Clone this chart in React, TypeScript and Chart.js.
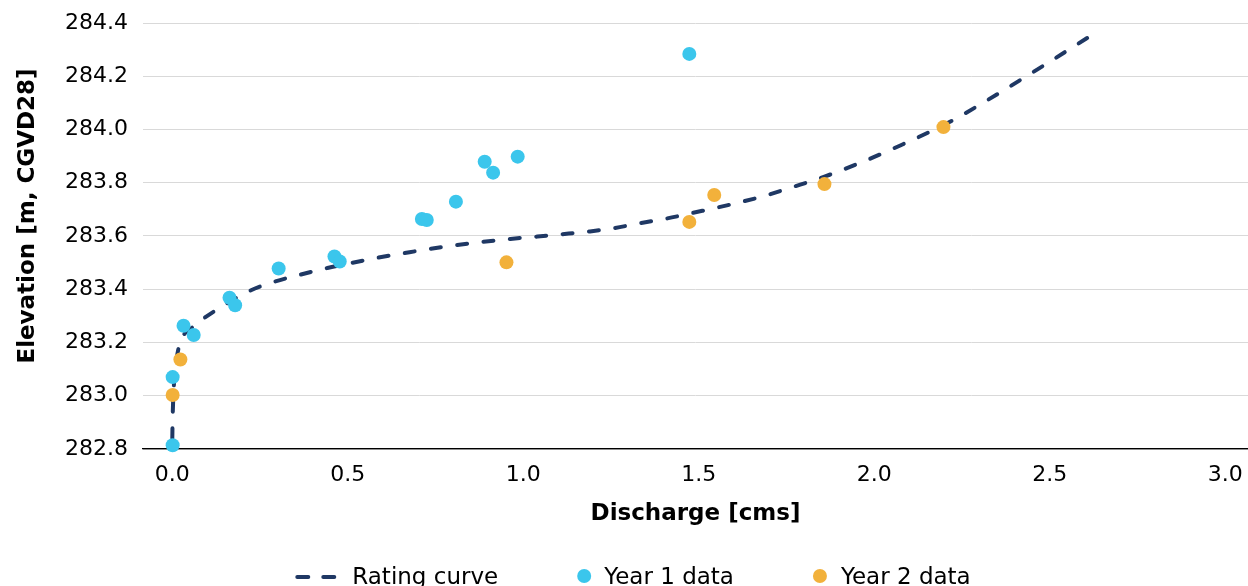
import React, { useEffect, useRef } from "react";
import { Chart, registerables } from "chart.js";

Chart.register(...registerables);

// ---------- data ----------
const curveQ = [
  0.0, 0.001, 0.003, 0.006, 0.01, 0.022, 0.036, 0.051, 0.089, 0.141, 0.222,
  0.288, 0.365, 0.442, 0.507, 0.584, 0.658, 0.735, 0.812, 0.886, 0.963, 1.04,
  1.105, 1.19, 1.26, 1.333, 1.41, 1.48, 1.58, 1.685, 1.77, 1.858, 1.96, 2.074,
  2.217, 2.322, 2.453, 2.607,
];
const curveElev = [
  282.84, 282.92, 283.0, 283.07, 283.12, 283.2, 283.235, 283.25, 283.29,
  283.335, 283.395, 283.427, 283.455, 283.48, 283.498, 283.518, 283.535,
  283.552, 283.566, 283.578, 283.589, 283.598, 283.606, 283.617, 283.63,
  283.648, 283.666, 283.686, 283.715, 283.75, 283.785, 283.823, 283.875,
  283.94, 284.03, 284.11, 284.216, 284.344,
];

const year1Q = [
  0.001, 0.001, 0.032, 0.061, 0.163, 0.179, 0.303, 0.462, 0.477, 0.711, 0.725,
  0.808, 0.89, 0.914, 0.984, 1.473,
];
const year1Elev = [
  282.814, 283.07, 283.263, 283.228, 283.368, 283.34, 283.478, 283.523,
  283.504, 283.664, 283.66, 283.729, 283.879, 283.838, 283.898, 284.284,
];

const year2Q = [0.001, 0.023, 0.952, 1.473, 1.544, 1.858, 2.197];
const year2Elev = [283.003, 283.136, 283.501, 283.653, 283.754, 283.795, 284.009];

const xTickValues = [0, 0.5, 1.0, 1.5, 2.0, 2.5, 3.0];
const yTickValues = [282.8, 283.0, 283.2, 283.4, 283.6, 283.8, 284.0, 284.2, 284.4];

const seriesNames = ["Rating curve", "Year 1 data", "Year 2 data"];
const xAxisTitle = "Discharge [cms]";
const yAxisTitle = "Elevation [m, CGVD28]";

// ---------- styles ----------
const NAVY = "#1F3864";
const BLUE = "#3BC6EC";
const ORANGE = "#F2B13B";
const FONT = "'DejaVu Sans', sans-serif";

const toPoints = (xs: number[], ys: number[]) => xs.map((x, i) => ({ x, y: ys[i] }));

const yTitlePlugin = {
  id: "yTitle",
  afterDraw(chart: any) {
    const { ctx, chartArea } = chart;
    ctx.save();
    ctx.translate(28, (chartArea.top + chartArea.bottom) / 2 - 20);
    ctx.rotate(-Math.PI / 2);
    ctx.font = `bold 23px ${FONT}`;
    ctx.fillStyle = "#000";
    ctx.textAlign = "center";
    ctx.textBaseline = "middle";
    ctx.fillText(yAxisTitle, 0, 0);
    ctx.restore();
  },
};

const legendPlugin = {
  id: "customLegend",
  afterDraw(chart: any) {
    const { ctx } = chart;
    ctx.save();
    ctx.font = `23px ${FONT}`;
    ctx.textBaseline = "middle";
    ctx.fillStyle = "#000";
    const y = 577;
    const sampleW = 41;
    const sampleGap = 16;
    const dotGap = 20;
    const itemGap = 86;
    const w0 = ctx.measureText(seriesNames[0]).width;
    const w1 = ctx.measureText(seriesNames[1]).width;
    const w2 = ctx.measureText(seriesNames[2]).width;
    const total = sampleW + sampleGap + w0 + itemGap + dotGap + w1 + itemGap + dotGap + w2;
    let x = chart.width / 2 + 8.5 - total / 2;
    // dashed line sample
    ctx.strokeStyle = NAVY;
    ctx.lineWidth = 4;
    ctx.lineCap = "round";
    ctx.beginPath();
    ctx.moveTo(x + 2, y);
    ctx.lineTo(x + 13, y);
    ctx.moveTo(x + 28, y);
    ctx.lineTo(x + 39, y);
    ctx.stroke();
    x += sampleW + sampleGap;
    ctx.fillText(seriesNames[0], x, y + 1);
    x += w0 + itemGap;
    // blue dot
    ctx.fillStyle = BLUE;
    ctx.beginPath();
    ctx.arc(x, y - 1, 7, 0, Math.PI * 2);
    ctx.fill();
    x += dotGap;
    ctx.fillStyle = "#000";
    ctx.fillText(seriesNames[1], x, y + 1);
    x += w1 + itemGap;
    ctx.fillStyle = ORANGE;
    ctx.beginPath();
    ctx.arc(x, y - 1, 7, 0, Math.PI * 2);
    ctx.fill();
    x += dotGap + 1;
    ctx.fillStyle = "#000";
    ctx.fillText(seriesNames[2], x, y + 1);
    ctx.restore();
  },
};

export default function App() {
  const canvasRef = useRef<HTMLCanvasElement | null>(null);

  useEffect(() => {
    if (!canvasRef.current) return;
    const chart = new Chart(canvasRef.current, {
      type: "scatter",
      data: {
        datasets: [
          {
            label: seriesNames[0],
            data: toPoints(curveQ, curveElev),
            showLine: true,
            borderColor: NAVY,
            borderWidth: 4,
            borderDash: [10, 16.5],
            borderCapStyle: "round",
            pointRadius: 0,
            pointHoverRadius: 0,
            cubicInterpolationMode: "monotone",
            order: 3,
          } as any,
          {
            label: seriesNames[1],
            data: toPoints(year1Q, year1Elev),
            backgroundColor: BLUE,
            borderWidth: 0,
            pointRadius: 7,
            order: 1,
          },
          {
            label: seriesNames[2],
            data: toPoints(year2Q, year2Elev),
            backgroundColor: ORANGE,
            borderWidth: 0,
            pointRadius: 7,
            order: 2,
          },
        ],
      },
      options: {
        responsive: false,
        animation: false,
        clip: false,
        layout: { autoPadding: false, padding: { top: 23, bottom: 51, left: 0, right: 0 } },
        plugins: {
          legend: { display: false },
          tooltip: { enabled: false },
        },
        scales: {
          x: {
            type: "linear",
            min: -0.0835,
            max: 3.0647,
            afterBuildTicks: (s: any) => {
              s.ticks = xTickValues.map((v) => ({ value: v }));
            },
            afterFit: (s: any) => {
              s.height = 100;
              s.paddingLeft = 0;
              s.paddingRight = 0;
            },
            grid: {
              display: true,
              drawOnChartArea: false,
              drawTicks: true,
              tickLength: 11,
              color: "rgba(0,0,0,0)",
            },
            border: { display: true, color: "#000", width: 1.3 },
            ticks: {
              padding: 2,
              color: "#000",
              font: { family: FONT, size: 22 },
              maxRotation: 0,
              autoSkip: false,
              callback: (v: any) => Number(v).toFixed(1),
            },
            title: {
              display: true,
              text: xAxisTitle,
              color: "#000",
              font: { family: FONT, size: 23, weight: "bold" },
              padding: { top: 0, bottom: 21 },
            },
          },
          y: {
            type: "linear",
            min: 282.8,
            max: 284.4,
            afterBuildTicks: (s: any) => {
              s.ticks = yTickValues.map((v) => ({ value: v }));
            },
            afterFit: (s: any) => {
              s.width = 143;
              s.paddingTop = 0;
              s.paddingBottom = 0;
            },
            grid: {
              color: (c: any) => (c.tick && c.tick.value === 282.8 ? "#000" : "#D9D9D9"),
              lineWidth: (c: any) => (c.tick && c.tick.value === 282.8 ? 1.3 : 1),
              drawTicks: false,
            },
            border: { display: false },
            ticks: {
              padding: 15,
              color: "#000",
              font: { family: FONT, size: 22 },
              callback: (v: any) => Number(v).toFixed(1),
            },
          },
        },
      } as any,
      plugins: [yTitlePlugin, legendPlugin],
    });
    return () => chart.destroy();
  }, []);

  return (
    <div
      style={{
        position: "fixed",
        left: 0,
        top: 0,
        width: 1248,
        height: 586,
        overflow: "hidden",
        background: "#fff",
      }}
    >
      <canvas ref={canvasRef} width={1248} height={600} style={{ display: "block" }} />
    </div>
  );
}
